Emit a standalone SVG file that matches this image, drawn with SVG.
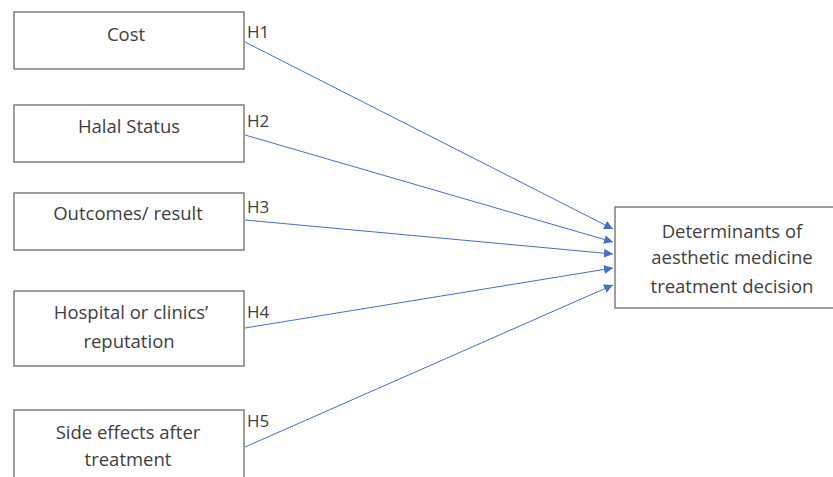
<svg xmlns="http://www.w3.org/2000/svg" width="833" height="477" viewBox="0 0 833 477">
<style>
.box{fill:#fff;stroke:#7f7f7f;stroke-width:1.5}
.t{font-family:"Open Sans","Liberation Sans",sans-serif;font-size:18.5px;fill:#404040;text-anchor:middle}
.h{font-family:"Open Sans","Liberation Sans",sans-serif;font-size:17px;fill:#404040}
.c{stroke:#4472c4;stroke-width:1;fill:none;marker-end:url(#ah)}
</style>
<defs>
<marker id="ah" viewBox="0 0 10 10" refX="10" refY="5" markerWidth="9" markerHeight="9" markerUnits="userSpaceOnUse" orient="auto">
<path d="M0,0 L10,5 L0,10 z" fill="#4472c4"/>
</marker>
</defs>
<rect width="833" height="477" fill="#fff"/>
<g id="connectors">
<line class="c" x1="245" y1="42" x2="613" y2="229"/>
<line class="c" x1="245" y1="135" x2="613" y2="242"/>
<line class="c" x1="245" y1="220" x2="613" y2="254"/>
<line class="c" x1="245" y1="328" x2="613" y2="268"/>
<line class="c" x1="245" y1="447" x2="613" y2="285"/>
<text class="h" x="247" y="38">H1</text>
<text class="h" x="247" y="127">H2</text>
<text class="h" x="247" y="213">H3</text>
<text class="h" x="247" y="318">H4</text>
<text class="h" x="247" y="427">H5</text>
</g>
<g id="cost"><rect class="box" x="14" y="12" width="230" height="57"/><text class="t" x="126" y="40.5">Cost</text></g>
<g id="halal"><rect class="box" x="14" y="105" width="230" height="57"/><text class="t" x="129" y="133">Halal Status</text></g>
<g id="outcomes"><rect class="box" x="14" y="193" width="230" height="57"/><text class="t" x="128" y="219.5">Outcomes/ result</text></g>
<g id="hospital"><rect class="box" x="14" y="291" width="230" height="75"/><text class="t" x="131" y="319">Hospital or clinics’</text><text class="t" x="129" y="348">reputation</text></g>
<g id="side"><rect class="box" x="14" y="410" width="230" height="80"/><text class="t" x="128" y="439">Side effects after</text><text class="t" x="128" y="466">treatment</text></g>
<g id="determinants"><rect class="box" x="615" y="207" width="240" height="101"/><text class="t" x="732" y="238">Determinants of</text><text class="t" x="732" y="264">aesthetic medicine</text><text class="t" x="732" y="293">treatment decision</text></g>
</svg>
